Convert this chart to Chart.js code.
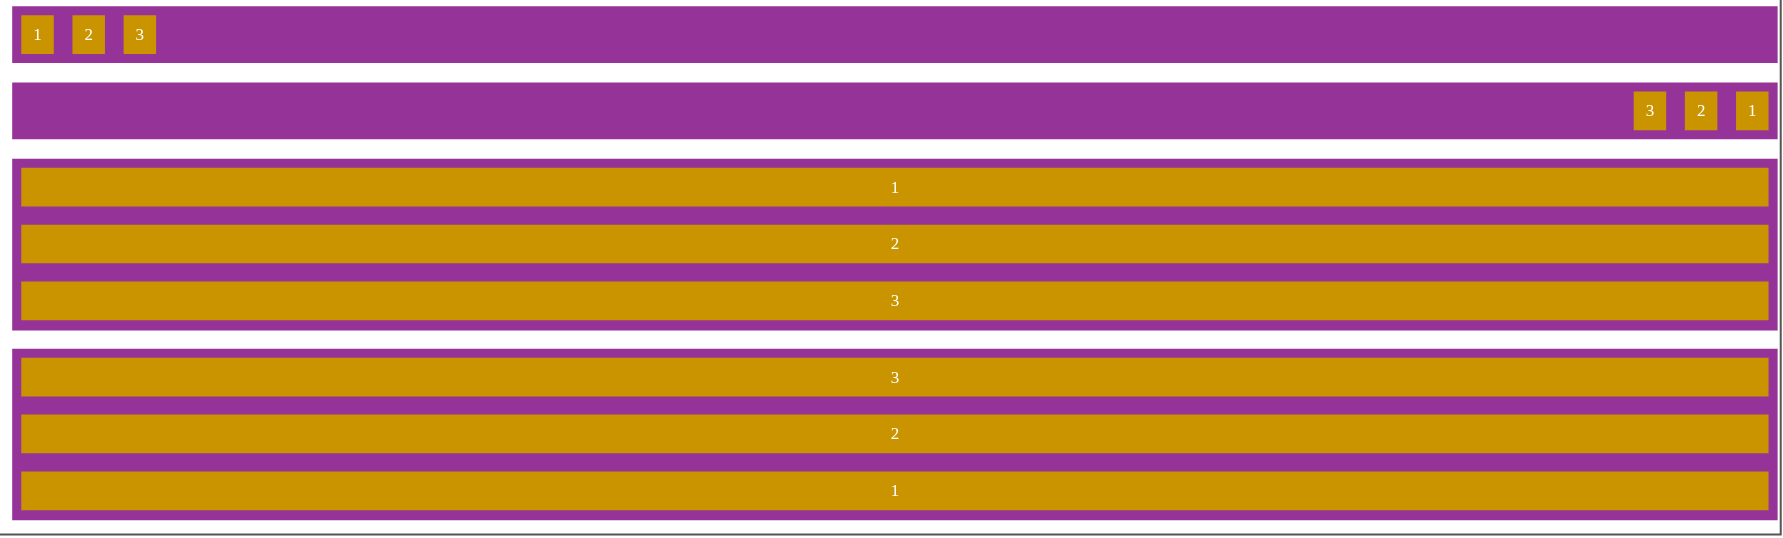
<!DOCTYPE html>
<html><head><meta charset="utf-8">
<script src="https://cdn.jsdelivr.net/npm/chart.js@4"></script>
<style>html,body{margin:0;padding:0;background:#fff}canvas{display:block}</style>
</head><body>
<canvas id="c" width="1783" height="538"></canvas>
<script>
// Panels (flex containers): [left, right, top, bottom]
const panels = [[11,1563,6,55],[11,1563,73,122],[11,1563,140,290],[11,1563,307,457]];
// Items: label, [left,right,top,bottom]
const itemLabels = ["1","2","3","3","2","1","1","2","3","3","2","1"];
const itemBoxes = [
 [19,47,14,47],[64,92,14,47],[109,137,14,47],
 [1437,1465,81,114],[1482,1510,81,114],[1527,1555,81,114],
 [19,1555,148,181],[19,1555,198,231],[19,1555,248,281],
 [19,1555,315,348],[19,1555,365,398],[19,1555,415,448]
];
const frameLine = [{x:1566,y:0},{x:1566,y:470},{x:0,y:470}];

const XMAX = 1568, YMAX = 473, K = 538/473;
const PURPLE = '#963399', GOLD = '#C99400';
function toBars(list){ return list.map(b=>({y:(b[2]+b[3])/2, x:[b[0],b[1]], h:b[3]-b[2]})); }
const pBars = toBars(panels), iBars = toBars(itemBoxes);

const labelPlugin = {
  id:'labels',
  afterDatasetsDraw(chart){
    const ctx = chart.ctx, xs = chart.scales.x, ys = chart.scales.y;
    ctx.save();
    ctx.fillStyle='#fff'; ctx.font='17px "Liberation Serif", serif';
    ctx.textAlign='center'; ctx.textBaseline='middle';
    iBars.forEach((b,i)=>{
      ctx.fillText(itemLabels[i], (xs.getPixelForValue(b.x[0])+xs.getPixelForValue(b.x[1]))/2, ys.getPixelForValue(b.y)+1);
    });
    ctx.restore();
  }
};

function groups(bars,color){
  const m = {};
  bars.forEach(b=>{(m[b.h]=m[b.h]||[]).push({x:b.x,y:b.y});});
  return Object.keys(m).map(h=>({type:'bar',data:m[h],backgroundColor:color,barThickness:Math.round(+h*K),
    borderWidth:0,borderSkipped:false,grouped:false,order:color===PURPLE?2:1}));
}

new Chart(document.getElementById('c'),{
  data:{datasets:[
    ...groups(pBars,PURPLE),
    ...groups(iBars,GOLD),
    {type:'line',data:frameLine,borderColor:'#555',borderWidth:2,pointRadius:0,fill:false,order:0}
  ]},
  options:{
    indexAxis:'y', responsive:false, animation:false, devicePixelRatio:1,
    layout:{padding:0},
    plugins:{legend:{display:false},tooltip:{enabled:false}},
    scales:{
      x:{type:'linear',min:0,max:XMAX,display:false,offset:false},
      y:{type:'linear',min:0,max:YMAX,reverse:true,display:false,offset:false}
    }
  },
  plugins:[labelPlugin]
});
</script>
</body></html>
